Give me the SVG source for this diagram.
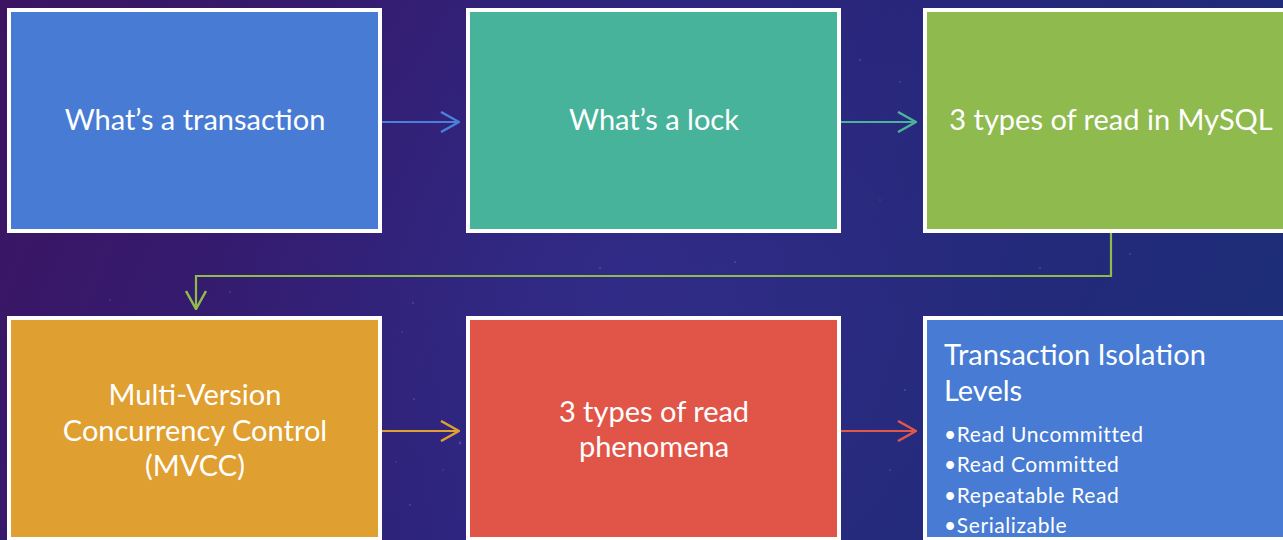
<svg xmlns="http://www.w3.org/2000/svg" width="1283" height="540" viewBox="0 0 1283 540">
  <defs>
    <linearGradient id="bg" x1="0" y1="0" x2="1283" y2="540" gradientUnits="userSpaceOnUse">
      <stop offset="0" stop-color="#3d1462"/>
      <stop offset="0.45" stop-color="#2c237c"/>
      <stop offset="1" stop-color="#1c2f78"/>
    </linearGradient>
    <radialGradient id="glow" cx="640" cy="300" r="420" gradientUnits="userSpaceOnUse">
      <stop offset="0" stop-color="#3b3a9a" stop-opacity="0.35"/>
      <stop offset="1" stop-color="#3b3a9a" stop-opacity="0"/>
    </radialGradient>
    <marker id="arr-blue" markerWidth="20" markerHeight="22" refX="19" refY="11" orient="auto" markerUnits="userSpaceOnUse">
      <path d="M1,1 L19,11 L1,21" fill="none" stroke="#4a80d8" stroke-width="2.5"/>
    </marker>
    <marker id="arr-teal" markerWidth="20" markerHeight="22" refX="19" refY="11" orient="auto" markerUnits="userSpaceOnUse">
      <path d="M1,1 L19,11 L1,21" fill="none" stroke="#48b49a" stroke-width="2.5"/>
    </marker>
    <marker id="arr-green" markerWidth="20" markerHeight="22" refX="19" refY="11" orient="auto" markerUnits="userSpaceOnUse">
      <path d="M1,1 L19,11 L1,21" fill="none" stroke="#8fbb4c" stroke-width="2.5"/>
    </marker>
    <marker id="arr-orange" markerWidth="20" markerHeight="22" refX="19" refY="11" orient="auto" markerUnits="userSpaceOnUse">
      <path d="M1,1 L19,11 L1,21" fill="none" stroke="#e0a030" stroke-width="2.5"/>
    </marker>
    <marker id="arr-red" markerWidth="20" markerHeight="22" refX="19" refY="11" orient="auto" markerUnits="userSpaceOnUse">
      <path d="M1,1 L19,11 L1,21" fill="none" stroke="#e2574a" stroke-width="2.5"/>
    </marker>
  </defs>
  <style>
    .box { stroke: #ffffff; stroke-width: 4; }
    .label { font-family: Lato, "Liberation Sans", sans-serif; font-size: 29px; fill: #ffffff; }
    .center { text-anchor: middle; }
    .item { font-family: Lato, "Liberation Sans", sans-serif; font-size: 21px; fill: #ffffff; letter-spacing: 0.6px; }
    .conn { fill: none; stroke-width: 2.2; }
    .star { fill: #c8cdfa; }
  </style>

  <!-- backdrop -->
  <rect x="0" y="0" width="1283" height="540" fill="url(#bg)"/>
  <rect x="0" y="0" width="1283" height="540" fill="url(#glow)"/>
  <g opacity="0.2">
    <circle class="star" cx="413" cy="303" r="1"/>
    <circle class="star" cx="402" cy="332" r="0.8"/>
    <circle class="star" cx="414" cy="399" r="1"/>
    <circle class="star" cx="396" cy="462" r="0.8"/>
    <circle class="star" cx="460" cy="443" r="1.4"/>
    <circle class="star" cx="410" cy="505" r="0.9"/>
    <circle class="star" cx="600" cy="268" r="1"/>
    <circle class="star" cx="735" cy="262" r="0.9"/>
    <circle class="star" cx="1040" cy="268" r="1"/>
    <circle class="star" cx="1130" cy="254" r="1"/>
    <circle class="star" cx="860" cy="60" r="1"/>
    <circle class="star" cx="900" cy="82" r="0.9"/>
    <circle class="star" cx="880" cy="200" r="0.8"/>
    <circle class="star" cx="230" cy="292" r="0.9"/>
    <circle class="star" cx="110" cy="300" r="0.8"/>
    <circle class="star" cx="890" cy="470" r="0.9"/>
    <circle class="star" cx="905" cy="390" r="1"/>
    <circle class="star" cx="443" cy="470" r="0.8"/>
  </g>

  <!-- connectors -->
  <g id="connectors">
    <line class="conn" x1="382" y1="122" x2="459" y2="122" stroke="#4a80d8" marker-end="url(#arr-blue)"/>
    <line class="conn" x1="841" y1="122" x2="916" y2="122" stroke="#48b49a" marker-end="url(#arr-teal)"/>
    <polyline class="conn" points="1111,233 1111,276 196,276 196,309" stroke="#8fbb4c" marker-end="url(#arr-green)"/>
    <line class="conn" x1="382" y1="431" x2="459" y2="431" stroke="#e0a030" marker-end="url(#arr-orange)"/>
    <line class="conn" x1="841" y1="431" x2="916" y2="431" stroke="#e2574a" marker-end="url(#arr-red)"/>
  </g>

  <g id="node-transaction">
    <rect class="box" x="9" y="10" width="371" height="221" fill="#477bd4"/>
    <text class="label center" x="195" y="130">What’s a transaction</text>
  </g>

  <g id="node-lock">
    <rect class="box" x="468" y="10" width="371" height="221" fill="#47b39a"/>
    <text class="label center" x="654" y="130">What’s a lock</text>
  </g>

  <g id="node-read-types">
    <rect class="box" x="925" y="10" width="371" height="221" fill="#8fba4e"/>
    <text class="label center" x="1111" y="130">3 types of read in MySQL</text>
  </g>

  <g id="node-mvcc">
    <rect class="box" x="9" y="318" width="371" height="221" fill="#df9f31"/>
    <text class="label center" x="195" y="405">Multi-Version</text>
    <text class="label center" x="195" y="441">Concurrency Control</text>
    <text class="label center" x="195" y="476">(MVCC)</text>
  </g>

  <g id="node-phenomena">
    <rect class="box" x="468" y="318" width="371" height="221" fill="#e15548"/>
    <text class="label center" x="654" y="422">3 types of read</text>
    <text class="label center" x="654" y="457">phenomena</text>
  </g>

  <g id="node-isolation">
    <rect class="box" x="925" y="318" width="371" height="221" fill="#477bd4"/>
    <text class="label" x="944" y="365">Transaction Isolation</text>
    <text class="label" x="944" y="401">Levels</text>
    <text class="item" x="944" y="442">•Read Uncommitted</text>
    <text class="item" x="944" y="472">•Read Committed</text>
    <text class="item" x="944" y="503">•Repeatable Read</text>
    <text class="item" x="944" y="533">•Serializable</text>
  </g>
</svg>
